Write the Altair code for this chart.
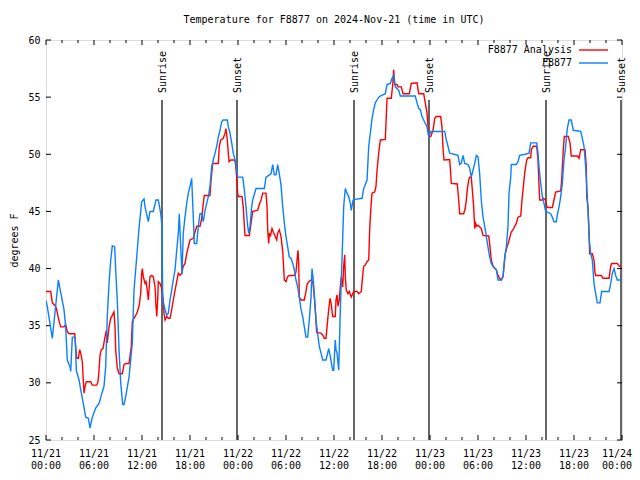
import altair as alt
import pandas as pd

# ---- data (hours since 2024-11-21 00:00 UTC, degrees F) ----
analysis_points = [
    (0.0, 38.0), (0.59, 38.0), (0.79, 37.0), (1.21, 36.7), (1.34, 36.4), (1.5, 35.8), (1.71, 35.2),
    (1.84, 34.9), (2.25, 34.9), (2.46, 35.1), (2.66, 34.5), (2.88, 34.3), (3.59, 34.3), (3.71, 33.2),
    (3.84, 32.15), (4.04, 32.15), (4.21, 32.9), (4.34, 32.6), (4.54, 31.85), (4.66, 30.25), (4.75, 29.1),
    (4.88, 29.7), (5.04, 30.1), (5.59, 30.1), (5.79, 29.8), (6.34, 29.8), (6.5, 30.1), (6.63, 31.1),
    (6.75, 32.4), (6.91, 32.9), (7.13, 33.0), (7.34, 33.9), (7.54, 34.6), (7.66, 33.5), (7.88, 34.9),
    (8.09, 35.65), (8.29, 35.9), (8.5, 36.2), (8.63, 34.9), (8.71, 32.9), (8.91, 31.3), (9.13, 30.8),
    (9.54, 30.8), (9.75, 31.6), (9.96, 31.7), (10.38, 31.7), (10.5, 32.3), (10.66, 33.2), (10.79, 35.35),
    (11.0, 35.65), (11.21, 35.9), (11.41, 36.2), (11.63, 36.7), (11.84, 37.8), (11.96, 39.6), (12.04, 40.0),
    (12.16, 39.3), (12.38, 38.7), (12.5, 38.85), (12.66, 38.1), (12.79, 37.25), (13.0, 39.3), (13.21, 39.4),
    (13.41, 39.3), (13.63, 38.4), (13.75, 36.7), (13.84, 35.8), (13.96, 37.25), (14.04, 38.85), (14.25, 38.7),
    (14.46, 38.3), (14.66, 37.25), (14.75, 36.1), (14.88, 35.5), (15.09, 35.8), (15.29, 35.65), (15.5, 35.65),
    (15.71, 36.4), (15.91, 37.25), (16.13, 38.1), (16.34, 38.85), (16.54, 39.6), (16.75, 39.4), (16.96, 39.6),
    (17.16, 40.2), (17.38, 40.45), (17.59, 41.3), (17.79, 41.9), (18.0, 42.5), (18.41, 42.65), (18.63, 43.2),
    (18.84, 43.7), (19.25, 43.7), (19.46, 44.4), (19.66, 45.7), (19.79, 46.4), (20.5, 46.4), (20.63, 47.75),
    (20.84, 49.2), (21.54, 49.2), (21.66, 50.7), (21.84, 51.25), (22.16, 51.4), (22.38, 51.85), (22.5, 52.25),
    (22.66, 51.25), (22.79, 50.1), (22.88, 49.35), (23.09, 49.5), (23.5, 49.5), (23.66, 49.35), (23.84, 48.0),
    (23.88, 47.45), (23.96, 46.6), (24.04, 46.3), (24.5, 46.3), (24.66, 45.4), (24.79, 43.8), (24.88, 42.9),
    (25.41, 42.9), (25.63, 43.95), (25.84, 45.0), (26.46, 45.1), (26.66, 45.6), (26.88, 46.0), (27.09, 46.6),
    (27.5, 46.6), (27.63, 45.4), (27.71, 43.4), (27.84, 42.2), (27.91, 43.1), (28.04, 42.8), (28.25, 43.5),
    (28.41, 43.2), (28.66, 42.8), (28.84, 42.5), (28.96, 43.1), (29.16, 43.4), (29.38, 42.8), (29.59, 41.5),
    (29.79, 39.0), (30.0, 38.85), (30.21, 39.3), (30.41, 39.4), (31.04, 39.4), (31.25, 39.7), (31.38, 40.75),
    (31.5, 41.6), (31.59, 40.45), (31.66, 37.5), (31.88, 37.25), (32.29, 37.25), (32.5, 38.0), (32.63, 38.6),
    (32.84, 38.85), (33.13, 39.0), (33.34, 38.85), (33.46, 38.1), (33.63, 36.7), (33.75, 35.35), (33.84, 34.4),
    (34.38, 34.35), (34.59, 34.2), (34.79, 33.9), (35.0, 33.9), (35.13, 34.9), (35.29, 36.1), (35.5, 37.4),
    (35.63, 37.0), (35.84, 35.8), (36.16, 35.8), (36.25, 37.25), (36.38, 37.7), (36.5, 36.7), (36.66, 37.25),
    (36.79, 38.4), (36.91, 39.3), (37.09, 38.4), (37.21, 40.2), (37.34, 41.2), (37.41, 39.3), (37.54, 38.1),
    (37.75, 37.8), (37.91, 38.0), (38.16, 37.5), (38.34, 37.8), (38.46, 38.0), (38.88, 38.0), (39.09, 37.8),
    (39.41, 38.0), (39.59, 39.4), (39.71, 40.2), (39.91, 40.3), (40.13, 40.6), (40.34, 40.75), (40.46, 43.4),
    (40.59, 45.1), (40.75, 46.6), (41.09, 46.7), (41.25, 47.2), (41.38, 48.6), (41.59, 50.1), (41.79, 51.25),
    (42.41, 51.3), (42.5, 52.7), (42.63, 54.9), (43.16, 54.9), (43.34, 56.1), (43.46, 57.4), (43.59, 56.1),
    (43.88, 56.1), (44.0, 55.9), (44.41, 55.9), (44.63, 55.3), (45.41, 55.3), (45.66, 56.2), (46.38, 56.25),
    (46.59, 55.3), (47.21, 55.3), (47.41, 54.5), (47.63, 53.6), (47.84, 51.55), (48.09, 51.55), (48.38, 52.1),
    (48.59, 53.15), (48.79, 53.3), (49.34, 53.3), (49.5, 52.4), (49.63, 50.5), (49.75, 49.5), (50.46, 49.55),
    (50.59, 48.3), (50.66, 47.45), (51.41, 47.4), (51.59, 46.0), (51.71, 44.8), (52.21, 44.8), (52.41, 45.3),
    (52.54, 46.0), (52.66, 46.9), (52.84, 47.75), (52.96, 48.0), (53.16, 48.0), (53.29, 46.9), (53.46, 45.4),
    (53.59, 43.5), (53.71, 43.95), (53.84, 43.7), (54.0, 43.8), (54.13, 43.7), (54.41, 43.5), (54.63, 42.9),
    (55.34, 42.85), (55.5, 41.9), (55.66, 40.75), (55.88, 40.2), (56.09, 40.0), (56.29, 39.9), (56.5, 39.4),
    (56.71, 39.15), (56.91, 39.0), (57.13, 39.3), (57.25, 40.2), (57.41, 41.3), (57.63, 41.9), (57.84, 42.35),
    (58.04, 42.9), (58.16, 43.2), (58.38, 43.4), (58.59, 43.7), (58.79, 43.95), (59.0, 44.5), (59.34, 44.6),
    (59.5, 46.0), (59.71, 47.45), (59.88, 48.6), (60.09, 49.5), (60.25, 49.7), (60.59, 49.7), (60.66, 50.4),
    (60.91, 50.7), (61.34, 50.7), (61.5, 49.5), (61.63, 47.2), (61.71, 46.0), (62.04, 46.0), (62.16, 46.15),
    (62.46, 46.0), (62.59, 45.4), (62.75, 45.35), (63.29, 45.35), (63.5, 46.0), (63.71, 46.7), (64.34, 46.8),
    (64.46, 47.75), (64.66, 50.4), (64.79, 51.55), (65.29, 51.55), (65.5, 51.0), (65.66, 49.85), (66.41, 49.85),
    (66.63, 49.65), (66.84, 50.4), (67.38, 50.4), (67.54, 48.9), (67.59, 46.3), (67.75, 45.4), (67.88, 43.1),
    (67.96, 41.3), (68.29, 41.3), (68.5, 40.75), (68.63, 39.6), (68.71, 39.4), (69.41, 39.4), (69.63, 39.15),
    (70.38, 39.15), (70.59, 40.2), (70.71, 40.45), (71.41, 40.45), (71.66, 40.2), (71.9, 40.2),
]

observed_points = [
    (0.0, 37.2), (0.16, 36.7), (0.79, 33.9), (1.54, 39.0), (1.84, 37.9), (2.25, 36.4), (2.46, 34.9),
    (2.59, 33.0), (2.66, 32.0), (3.0, 31.4), (3.09, 31.0), (3.29, 34.0), (3.63, 34.0), (3.71, 32.9),
    (3.79, 31.1), (4.13, 30.25), (4.34, 29.4), (4.66, 28.2), (4.96, 27.0), (5.29, 26.9), (5.5, 26.05),
    (5.79, 27.0), (6.21, 27.8), (6.63, 28.2), (6.91, 28.9), (7.25, 29.7), (7.46, 31.4), (7.66, 35.8),
    (7.88, 38.7), (8.09, 40.75), (8.29, 42.0), (8.59, 41.9), (8.71, 39.9), (8.91, 37.25), (9.13, 32.9),
    (9.34, 30.0), (9.59, 28.1), (9.75, 28.1), (9.96, 28.8), (10.38, 30.5), (10.79, 33.5), (11.0, 38.1),
    (11.34, 41.0), (11.63, 43.55), (11.96, 45.85), (12.25, 46.1), (12.38, 45.4), (12.79, 44.1), (13.0, 45.0),
    (13.41, 45.0), (13.75, 46.0), (14.04, 46.0), (14.34, 44.8), (14.5, 43.7), (14.59, 37.25), (14.88, 36.4),
    (15.09, 35.9), (15.29, 36.1), (15.5, 37.25), (15.71, 38.1), (15.91, 39.0), (16.13, 39.9), (16.34, 41.6),
    (16.54, 43.1), (16.66, 44.8), (16.84, 41.9), (17.0, 39.5), (17.16, 43.1), (17.38, 44.55), (17.59, 45.7),
    (17.79, 46.6), (18.0, 47.2), (18.21, 47.9), (18.41, 44.5), (18.54, 42.2), (18.84, 42.2), (19.04, 43.7),
    (19.25, 44.8), (19.46, 44.8), (19.66, 44.1), (19.88, 45.1), (20.09, 45.7), (20.29, 46.3), (20.5, 47.2),
    (20.71, 48.9), (20.91, 49.5), (21.13, 50.1), (21.34, 50.7), (21.54, 51.5), (21.75, 52.1), (21.96, 52.85),
    (22.16, 53.0), (22.66, 53.0), (22.79, 52.4), (23.0, 51.85), (23.21, 51.0), (23.41, 50.1), (23.63, 49.5),
    (23.91, 48.3), (23.96, 48.0), (24.59, 48.0), (24.79, 46.9), (25.0, 45.4), (25.21, 43.7), (25.34, 43.1),
    (25.5, 43.7), (25.71, 45.4), (25.84, 46.0), (26.25, 47.0), (27.29, 47.0), (27.5, 48.0), (28.13, 48.3),
    (28.34, 49.1), (28.54, 48.2), (28.75, 48.2), (28.96, 49.1), (29.16, 48.3), (29.38, 47.3), (29.59, 45.4),
    (29.79, 44.0), (30.0, 42.8), (30.21, 41.9), (30.41, 41.0), (30.63, 40.9), (30.84, 40.45), (31.04, 39.9),
    (31.25, 39.0), (31.46, 38.4), (31.66, 37.5), (31.88, 36.4), (32.09, 35.8), (32.29, 34.9), (32.5, 34.0),
    (32.71, 34.0), (32.91, 35.5), (33.13, 37.5), (33.25, 40.0), (33.41, 39.0), (33.54, 37.8), (33.75, 35.5),
    (33.96, 34.3), (34.16, 33.2), (34.38, 32.6), (34.59, 32.0), (35.0, 32.0), (35.34, 33.0), (35.54, 32.3),
    (35.84, 31.1), (35.96, 31.1), (36.16, 33.75), (36.25, 32.9), (36.38, 32.6), (36.59, 31.1), (36.79, 36.4),
    (37.0, 40.75), (37.21, 45.4), (37.41, 47.0), (37.63, 46.6), (37.84, 46.3), (38.04, 45.7), (38.16, 45.1),
    (38.38, 46.0), (38.66, 46.05), (39.5, 46.15), (39.71, 47.0), (40.13, 47.75), (40.34, 50.7), (40.54, 51.85),
    (40.75, 53.1), (40.96, 53.9), (41.16, 54.5), (41.38, 54.75), (41.59, 55.0), (41.79, 55.1), (42.41, 55.3),
    (42.63, 56.1), (43.04, 56.2), (43.25, 56.65), (43.46, 56.9), (43.66, 55.9), (44.09, 55.6), (44.29, 55.1),
    (46.16, 55.1), (46.38, 54.5), (46.59, 54.0), (46.79, 53.9), (47.0, 53.3), (47.21, 53.0), (47.41, 52.7),
    (47.63, 52.4), (47.84, 51.55), (48.09, 52.0), (49.84, 52.0), (50.04, 51.25), (50.25, 50.7), (50.46, 50.1),
    (51.5, 49.9), (51.71, 49.1), (51.91, 49.2), (52.13, 49.9), (52.34, 49.2), (52.75, 49.1), (52.96, 48.8),
    (53.16, 48.0), (53.38, 48.6), (53.59, 49.2), (53.79, 49.9), (54.0, 49.8), (54.21, 48.3), (54.41, 46.0),
    (54.63, 44.5), (54.84, 43.7), (55.04, 42.8), (55.25, 41.9), (55.46, 41.0), (55.66, 40.45), (55.88, 40.2),
    (56.29, 39.9), (56.5, 39.0), (56.91, 39.0), (57.13, 39.3), (57.34, 41.0), (57.54, 41.9), (57.75, 43.7),
    (57.88, 46.6), (58.09, 48.0), (58.16, 49.1), (58.79, 49.1), (59.0, 49.35), (59.21, 49.9), (59.91, 50.0),
    (60.38, 50.1), (60.59, 51.0), (61.34, 51.0), (61.5, 50.1), (61.63, 48.9), (61.84, 47.45), (62.04, 46.3),
    (62.25, 45.7), (62.46, 45.0), (63.09, 44.8), (63.29, 44.5), (63.5, 44.1), (63.79, 44.1), (63.91, 44.7),
    (64.13, 45.4), (64.34, 46.3), (64.54, 47.45), (64.75, 49.5), (64.96, 50.7), (65.16, 52.25), (65.38, 53.0),
    (65.66, 53.0), (65.91, 52.1), (66.84, 52.0), (67.04, 51.4), (67.25, 50.7), (67.46, 48.9), (67.66, 46.3),
    (67.79, 44.5), (67.91, 42.5), (68.09, 41.3), (68.29, 40.75), (68.5, 38.7), (68.71, 37.8), (68.91, 37.0),
    (69.25, 37.0), (69.46, 38.0), (70.38, 38.0), (70.59, 38.7), (70.79, 39.6), (71.0, 40.0), (71.21, 39.4),
    (71.41, 39.0), (71.9, 39.0),
]

event_hours = [14.5, 23.875, 38.5, 47.875, 62.5, 71.875]
event_labels = ["Sunrise", "Sunset", "Sunrise", "Sunset", "Sunrise", "Sunset"]

x_major_ticks = list(range(0, 73, 6))
x_tick_dates = ["11/21", "11/21", "11/21", "11/21", "11/22", "11/22", "11/22", "11/22",
                "11/23", "11/23", "11/23", "11/23", "11/24"]
x_tick_times = ["00:00", "06:00", "12:00", "18:00"] * 3 + ["00:00"]
x_minor_ticks = [h for h in range(0, 73, 2) if h % 6 != 0]
y_ticks = [25, 30, 35, 40, 45, 50, 55, 60]

series_names = ["F8877 Analysis", "F8877"]
series_colors = ["#ff0000", "#0a80ff"]

TITLE = "Temperature for F8877 on 2024-Nov-21 (time in UTC)"
FONT = "DejaVu Sans Mono"
W, H = 576, 400

df_a = pd.DataFrame(analysis_points, columns=["hour", "temp"])
df_o = pd.DataFrame(observed_points, columns=["hour", "temp"])
df_ev = pd.DataFrame({"hour": event_hours, "label": event_labels})
df_xmaj = pd.DataFrame({"hour": x_major_ticks,
                        "label": [d + "\n" + t for d, t in zip(x_tick_dates, x_tick_times)]})
df_xlab_mid = df_xmaj.iloc[:-1]
df_xlab_end = df_xmaj.iloc[-1:]
df_xmin = pd.DataFrame({"hour": x_minor_ticks})
df_y = pd.DataFrame({"temp": y_ticks})
df_leg = pd.DataFrame({"name": series_names, "color": series_colors, "row": [0, 1]})

xscale = alt.Scale(domain=[0, 72], nice=False, zero=False)
yscale = alt.Scale(domain=[25, 60], nice=False, zero=False)
legscale = alt.Scale(domain=[0, 1], range=[10, 23])

y_axis = alt.Axis(
    values=y_ticks,
    ticks=False, tickSize=0, domain=False, grid=False,
    labelFont=FONT, labelFontSize=10, labelColor="black", labelPadding=6,
    title="degrees F", titleFont=FONT, titleFontSize=10, titleFontWeight="normal",
    titleColor="black", titlePadding=8,
)

X = lambda: alt.X("hour:Q", scale=xscale, axis=None)

line_a = alt.Chart(df_a).mark_line(color=series_colors[0], strokeWidth=1.4, clip=True).encode(
    x=X(), y=alt.Y("temp:Q", scale=yscale, axis=y_axis),
)
line_o = alt.Chart(df_o).mark_line(color=series_colors[1], strokeWidth=1.4, clip=True).encode(
    x=X(), y=alt.Y("temp:Q", scale=yscale, axis=None),
)

ev_rules = alt.Chart(df_ev).mark_rule(color="black", strokeWidth=1.2).encode(
    x=X(), y=alt.value(60), y2=alt.value(H),
)
ev_text = alt.Chart(df_ev).mark_text(
    angle=270, align="left", baseline="middle", font=FONT, fontSize=10, color="black", dy=1
).encode(
    x=X(), y=alt.value(53), text="label:N",
)

x_labels_mid = alt.Chart(df_xlab_mid).mark_text(
    align="center", baseline="top", font=FONT, fontSize=10, color="black",
    lineBreak="\n", lineHeight=12,
).encode(x=X(), y=alt.value(H + 9), text="label:N")
x_labels_end = alt.Chart(df_xlab_end).mark_text(
    align="right", baseline="top", font=FONT, fontSize=10, color="black",
    lineBreak="\n", lineHeight=12, dx=10,
).encode(x=X(), y=alt.value(H + 9), text="label:N")

def xticks(df, size):
    bottom = alt.Chart(df).mark_rule(color="black", strokeWidth=1).encode(
        x=X(), y=alt.value(H), y2=alt.value(H - size))
    top = alt.Chart(df).mark_rule(color="black", strokeWidth=1).encode(
        x=X(), y=alt.value(0), y2=alt.value(size))
    return [bottom, top]

yt_left = alt.Chart(df_y).mark_rule(color="black", strokeWidth=1).encode(
    y=alt.Y("temp:Q", scale=yscale, axis=None), x=alt.value(0), x2=alt.value(5))
yt_right = alt.Chart(df_y).mark_rule(color="black", strokeWidth=1).encode(
    y=alt.Y("temp:Q", scale=yscale, axis=None), x=alt.value(W), x2=alt.value(W - 5))

leg_text = alt.Chart(df_leg).mark_text(
    align="right", baseline="middle", font=FONT, fontSize=10, color="black"
).encode(
    x=alt.value(526),
    y=alt.Y("row:Q", scale=legscale, axis=None),
    text="name:N",
)
leg_lines = alt.Chart(df_leg).mark_rule(strokeWidth=1.4).encode(
    x=alt.value(533), x2=alt.value(562),
    y=alt.Y("row:Q", scale=legscale, axis=None),
    color=alt.Color("color:N", scale=None, legend=None),
)

chart = alt.layer(
    ev_rules, *xticks(df_xmaj, 5), *xticks(df_xmin, 3), yt_left, yt_right,
    line_a, line_o, ev_text, x_labels_mid, x_labels_end, leg_text, leg_lines,
).resolve_scale(y="independent").properties(
    width=W, height=H,
    title=alt.TitleParams(TITLE, font=FONT, fontSize=10, fontWeight="normal", color="black", offset=10),
    autosize=alt.AutoSizeParams(type="none"),
    padding={"left": 38, "top": 32, "right": 10, "bottom": 32},
).configure_view(stroke="black", strokeWidth=1).configure(background="white")

chart.save("out.html", embed_options={"renderer": "svg", "actions": False})
